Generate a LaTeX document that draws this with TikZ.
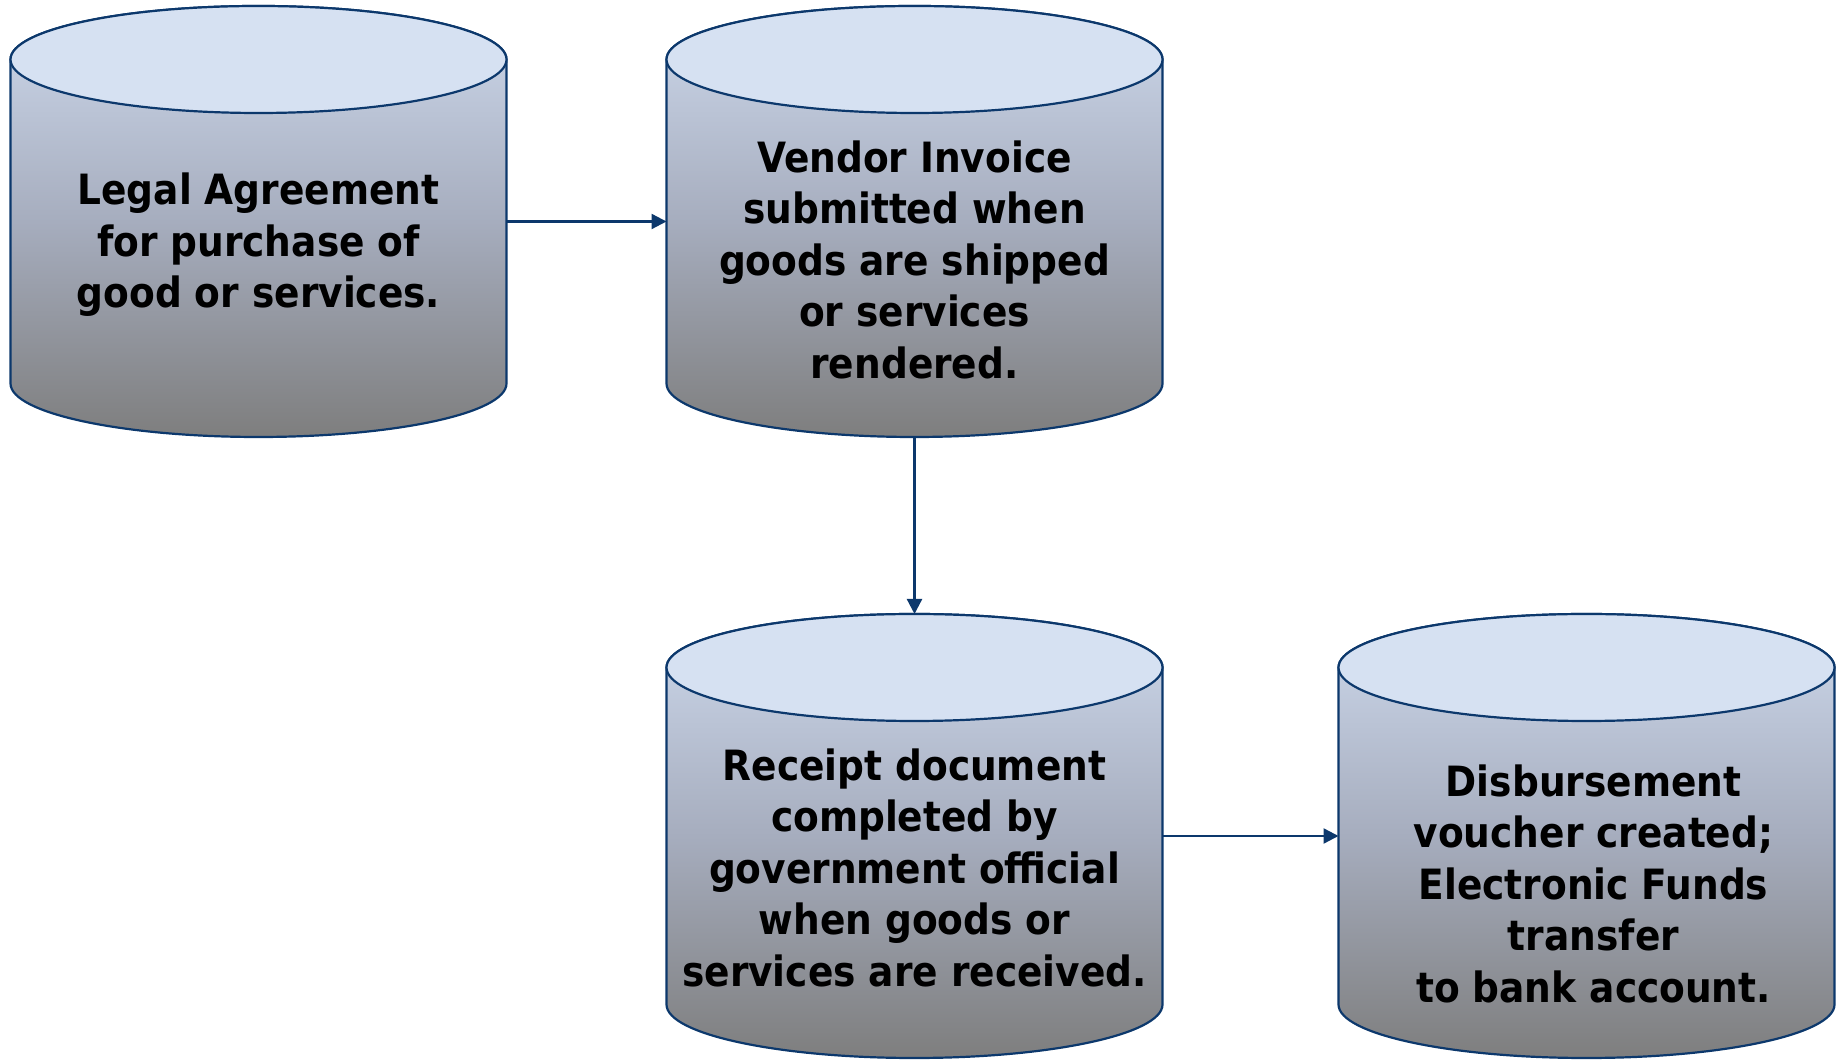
\documentclass[tikz,border=0pt]{standalone}
\usepackage{fontspec}
\usepackage{tikz}
\usetikzlibrary{positioning,arrows.meta,backgrounds}

\newfontfamily\tankfont{DejaVu Sans Condensed Bold}
\definecolor{tankline}{RGB}{12,56,108}
\definecolor{tanklid}{RGB}{214,225,242}
\definecolor{tanktopcol}{RGB}{206,217,236}
\definecolor{tankmidcol}{RGB}{166,173,190}
\definecolor{tankbotcol}{RGB}{126,126,126}

\tikzset{
  tank/.style={rectangle, inner sep=0pt, outer sep=0pt,
               minimum width=496pt, minimum height=#1},
  tankbody/.style={top color=tanktopcol, bottom color=tankbotcol,
                   middle color=tankmidcol, draw=tankline, line width=2.2pt},
  tanklid/.style={fill=tanklid, draw=tankline, line width=2.2pt},
  tanktext/.style={align=center, inner sep=0pt, text=black,
                   font=\tankfont\fontsize{41.7}{51.5}\selectfont},
  flow/.style={draw=tankline, line width=2.3pt,
               -{Triangle[length=15pt,width=15pt]}}
}

\begin{document}
\begin{tikzpicture}[x=1pt,y=1pt]
\useasboundingbox (0,0) rectangle (1839,1060);

\node (legal) [tank=431pt] at (258.5,838.5) {};
\node (invoice) [tank=431pt, right=160pt of legal] {};
\node (receipt) [tank=444pt, below=177pt of invoice] {};
\node (voucher) [tank=444pt, right=176pt of receipt] {};

\begin{pgfonlayer}{background}
\foreach \n in {legal,invoice,receipt,voucher}{
  \path[tankbody] ([yshift=-53.5pt]\n.north west)
      -- ([yshift=53.5pt]\n.south west)
      arc[start angle=180, end angle=360, x radius=248, y radius=53.5]
      -- ([yshift=-53.5pt]\n.north east)
      arc[start angle=0, end angle=180, x radius=248, y radius=53.5]
      -- cycle;
  \path[tanklid] ([yshift=-53.5pt]\n.north) ellipse[x radius=248, y radius=53.5];
}
\end{pgfonlayer}

\node (legal-text) [tanktext] at ([yshift=-23.5pt]legal.center)
  {Legal Agreement\\for purchase of\\good or services.};
\node (invoice-text) [tanktext] at ([yshift=-38pt]invoice.center)
  {Vendor Invoice\\submitted when\\goods are shipped\\or services\\rendered.};
\node (receipt-text) [tanktext] at ([yshift=-31.5pt]receipt.center)
  {Receipt document\\completed by\\government official\\when goods or\\services are received.};
\node (voucher-text) [tanktext] at ([xshift=7pt,yshift=-47.5pt]voucher.center)
  {Disbursement\\voucher created;\\Electronic Funds\\transfer\\to bank account.};

\draw[flow] (legal.east) -- (invoice.west);
\draw[flow] (invoice.south) -- (receipt.north);
\draw[flow] (receipt.east) -- (voucher.west);
\end{tikzpicture}
\end{document}
